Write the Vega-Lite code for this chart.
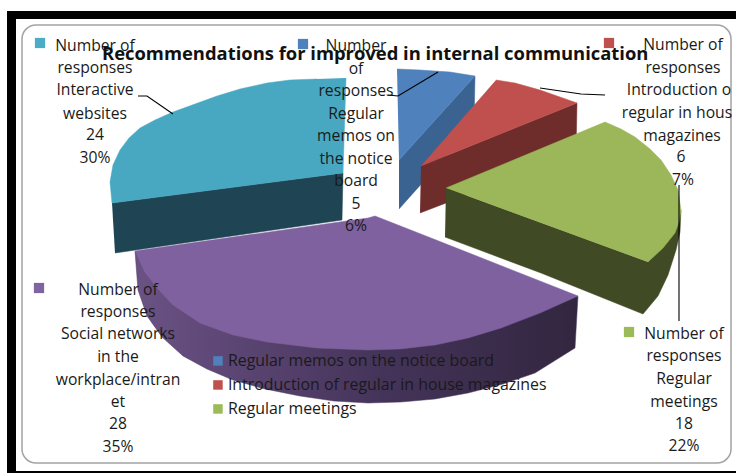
{"$schema":"https://vega.github.io/schema/vega-lite/v6.json","width":736,"height":473,"padding":0,"autosize":{"type":"none"},"background":"white",
"title":{"text":"Recommendations for improved in internal communication","font":"Open Sans","fontSize":18.4,"fontWeight":"bold","color":"#111111","anchor":"start","frame":"group","dx":102,"offset":-82,"baseline":"bottom","zindex":1},
"config":{"view":{"stroke":null}},
"datasets":{
"frame":[{"name":"inner","x":22,"x2":731,"y":25,"y2":463},{"name":"top","x":7,"x2":736,"y":11,"y2":19},{"name":"left","x":7,"x2":16,"y":11,"y2":473},{"name":"bottom","x":7,"x2":736,"y":471,"y2":473}],
"outline":[
{"part":"blue side","i":0,"x":399,"y":160},{"part":"blue side","i":1,"x":475,"y":76},{"part":"blue side","i":2,"x":474,"y":125},{"part":"blue side","i":3,"x":399,"y":209},
{"part":"blue top","i":0,"x":397,"y":69},{"part":"blue top","i":1,"x":420,"y":70},{"part":"blue top","i":2,"x":450,"y":72},{"part":"blue top","i":3,"x":475,"y":76},{"part":"blue top","i":4,"x":399,"y":160},
{"part":"red side","i":0,"x":421,"y":166},{"part":"red side","i":1,"x":577,"y":103},{"part":"red side","i":2,"x":576,"y":153},{"part":"red side","i":3,"x":420,"y":213},
{"part":"red top","i":0,"x":496,"y":80},{"part":"red top","i":1,"x":515,"y":83},{"part":"red top","i":2,"x":540,"y":90},{"part":"red top","i":3,"x":577,"y":103},{"part":"red top","i":4,"x":421,"y":166},
{"part":"green side","i":0,"x":446,"y":188},{"part":"green side","i":1,"x":648,"y":262},{"part":"green side","i":2,"x":681,"y":210},{"part":"green side","i":3,"x":680,"y":232},{"part":"green side","i":4,"x":676,"y":250},{"part":"green side","i":5,"x":668,"y":275},{"part":"green side","i":6,"x":658,"y":296},{"part":"green side","i":7,"x":643,"y":314},{"part":"green side","i":8,"x":541,"y":273},{"part":"green side","i":9,"x":445,"y":237},
{"part":"green top","i":0,"x":446,"y":188},{"part":"green top","i":1,"x":605,"y":122},{"part":"green top","i":2,"x":621,"y":129},{"part":"green top","i":3,"x":635,"y":137},{"part":"green top","i":4,"x":650,"y":149},{"part":"green top","i":5,"x":661,"y":160},{"part":"green top","i":6,"x":671,"y":175},{"part":"green top","i":7,"x":678,"y":190},{"part":"green top","i":8,"x":681,"y":210},{"part":"green top","i":9,"x":679,"y":222},{"part":"green top","i":10,"x":675,"y":233},{"part":"green top","i":11,"x":663,"y":248},{"part":"green top","i":12,"x":648,"y":262},
{"part":"teal side","i":0,"x":112,"y":203},{"part":"teal side","i":1,"x":343,"y":173},{"part":"teal side","i":2,"x":342,"y":220},{"part":"teal side","i":3,"x":115,"y":253},
{"part":"teal top","i":0,"x":346,"y":78},{"part":"teal top","i":1,"x":343,"y":173},{"part":"teal top","i":2,"x":112,"y":203},{"part":"teal top","i":3,"x":110,"y":182},{"part":"teal top","i":4,"x":113,"y":165},{"part":"teal top","i":5,"x":120,"y":150},{"part":"teal top","i":6,"x":129,"y":138},{"part":"teal top","i":7,"x":140,"y":128},{"part":"teal top","i":8,"x":155,"y":120},{"part":"teal top","i":9,"x":173,"y":112},{"part":"teal top","i":10,"x":195,"y":104},{"part":"teal top","i":11,"x":217,"y":96},{"part":"teal top","i":12,"x":240,"y":89},{"part":"teal top","i":13,"x":267,"y":83},{"part":"teal top","i":14,"x":290,"y":80},{"part":"teal top","i":15,"x":317,"y":79},
{"part":"purple side","i":0,"x":135,"y":251},{"part":"purple side","i":1,"x":138,"y":290},{"part":"purple side","i":2,"x":147,"y":316},{"part":"purple side","i":3,"x":162,"y":337},{"part":"purple side","i":4,"x":183,"y":356},{"part":"purple side","i":5,"x":207,"y":369},{"part":"purple side","i":6,"x":233,"y":380},{"part":"purple side","i":7,"x":265,"y":389},{"part":"purple side","i":8,"x":300,"y":396},{"part":"purple side","i":9,"x":334,"y":401},{"part":"purple side","i":10,"x":368,"y":403},{"part":"purple side","i":11,"x":401,"y":402},{"part":"purple side","i":12,"x":435,"y":399},{"part":"purple side","i":13,"x":468,"y":393},{"part":"purple side","i":14,"x":503,"y":384},{"part":"purple side","i":15,"x":535,"y":373},{"part":"purple side","i":16,"x":575,"y":348},{"part":"purple side","i":17,"x":578,"y":296},{"part":"purple side","i":18,"x":368,"y":340},
{"part":"purple top","i":0,"x":135,"y":251},{"part":"purple top","i":1,"x":368,"y":218},{"part":"purple top","i":2,"x":375,"y":216},{"part":"purple top","i":3,"x":431,"y":238},{"part":"purple top","i":4,"x":578,"y":296},{"part":"purple top","i":5,"x":540,"y":313},{"part":"purple top","i":6,"x":501,"y":328},{"part":"purple top","i":7,"x":468,"y":338},{"part":"purple top","i":8,"x":435,"y":345},{"part":"purple top","i":9,"x":400,"y":349},{"part":"purple top","i":10,"x":368,"y":350},{"part":"purple top","i":11,"x":317,"y":348},{"part":"purple top","i":12,"x":267,"y":342},{"part":"purple top","i":13,"x":233,"y":335},{"part":"purple top","i":14,"x":200,"y":323},{"part":"purple top","i":15,"x":173,"y":305},{"part":"purple top","i":16,"x":157,"y":288},{"part":"purple top","i":17,"x":144,"y":271}
],
"leaders":[
{"leader":"blue","i":0,"x":388,"y":95},{"leader":"blue","i":1,"x":398,"y":96},{"leader":"blue","i":2,"x":438,"y":72},
{"leader":"red","i":0,"x":540,"y":88},{"leader":"red","i":1,"x":581,"y":94},{"leader":"red","i":2,"x":605,"y":95},
{"leader":"teal","i":0,"x":138,"y":96},{"leader":"teal","i":1,"x":147,"y":96},{"leader":"teal","i":2,"x":173,"y":114},
{"leader":"green","i":0,"x":679,"y":185},{"leader":"green","i":1,"x":679,"y":321}
],
"keys":[
{"slice":"Interactive websites","x":40,"y":43},{"slice":"Regular memos on the notice board","x":303,"y":44},{"slice":"Introduction of regular in house magazines","x":609,"y":43},{"slice":"Social networks in the workplace/intranet","x":39,"y":288},{"slice":"Regular meetings","x":629,"y":332}
],
"labels":[
{"x":95,"y":45,"t":"Number of"},{"x":95,"y":67,"t":"responses"},{"x":95,"y":89,"t":"Interactive"},{"x":95,"y":113,"t":"websites"},{"x":95,"y":134,"t":"24"},{"x":95,"y":157,"t":"30%"},
{"x":356,"y":45,"t":"Number"},{"x":356,"y":68,"t":"of"},{"x":356,"y":90,"t":"responses"},{"x":356,"y":113,"t":"Regular"},{"x":356,"y":135,"t":"memos on"},{"x":356,"y":158,"t":"the notice"},{"x":356,"y":180,"t":"board"},{"x":356,"y":203,"t":"5"},{"x":356,"y":225,"t":"6%"},
{"x":683,"y":44,"t":"Number of"},{"x":683,"y":67,"t":"responses"},{"x":679,"y":89,"t":"Introduction o"},{"x":677,"y":112,"t":"regular in hous"},{"x":682,"y":135,"t":"magazines"},{"x":681,"y":156,"t":"6"},{"x":683,"y":179,"t":"7%"},
{"x":684,"y":333,"t":"Number of"},{"x":684,"y":355,"t":"responses"},{"x":684,"y":378,"t":"Regular"},{"x":684,"y":401,"t":"meetings"},{"x":684,"y":423,"t":"18"},{"x":684,"y":445,"t":"22%"},
{"x":118,"y":289,"t":"Number of"},{"x":118,"y":311,"t":"responses"},{"x":118,"y":333,"t":"Social networks"},{"x":118,"y":356,"t":"in the"},{"x":118,"y":379,"t":"workplace/intran"},{"x":118,"y":401,"t":"et"},{"x":118,"y":423,"t":"28"},{"x":118,"y":446,"t":"35%"}
]},
"encoding":{"x":{"field":"x","type":"quantitative","scale":{"domain":[0,736],"nice":false,"zero":false},"axis":null},"y":{"field":"y","type":"quantitative","scale":{"domain":[473,0],"nice":false,"zero":false},"axis":null}},
"layer":[
{"data":{"name":"frame"},"transform":[{"filter":"datum.name=='inner'"}],"mark":{"type":"rect","fill":"white","stroke":"#a3a3a3","strokeWidth":1.5,"cornerRadius":14},"encoding":{"x2":{"field":"x2"},"y2":{"field":"y2"}}},
{"data":{"name":"frame"},"transform":[{"filter":"datum.name!='inner'"}],"mark":{"type":"rect","fill":"black"},"encoding":{"x2":{"field":"x2"},"y2":{"field":"y2"}}},
{"data":{"name":"outline"},"transform":[{"filter":"datum.part=='blue side'"}],"mark":{"type":"line","fill":"#3a6391","stroke":"#3a6391","strokeWidth":0.5},"encoding":{"order":{"field":"i"}}},
{"data":{"name":"outline"},"transform":[{"filter":"datum.part=='blue top'"}],"mark":{"type":"line","fill":"#4f81bd","stroke":"#4f81bd","strokeWidth":0.5},"encoding":{"order":{"field":"i"}}},
{"data":{"name":"outline"},"transform":[{"filter":"datum.part=='red side'"}],"mark":{"type":"line","fill":"#6e2c2b","stroke":"#6e2c2b","strokeWidth":0.5},"encoding":{"order":{"field":"i"}}},
{"data":{"name":"outline"},"transform":[{"filter":"datum.part=='red top'"}],"mark":{"type":"line","fill":"#c0504d","stroke":"#c0504d","strokeWidth":0.5},"encoding":{"order":{"field":"i"}}},
{"data":{"name":"outline"},"transform":[{"filter":"datum.part=='green side'"}],"mark":{"type":"line","fill":"#404a24","stroke":"#404a24","strokeWidth":0.5},"encoding":{"order":{"field":"i"}}},
{"data":{"name":"outline"},"transform":[{"filter":"datum.part=='green top'"}],"mark":{"type":"line","fill":"#9bb759","stroke":"#9bb759","strokeWidth":0.5},"encoding":{"order":{"field":"i"}}},
{"data":{"name":"outline"},"transform":[{"filter":"datum.part=='teal side'"}],"mark":{"type":"line","fill":"#1f4555","stroke":"#1f4555","strokeWidth":0.5},"encoding":{"order":{"field":"i"}}},
{"data":{"name":"outline"},"transform":[{"filter":"datum.part=='teal top'"}],"mark":{"type":"line","fill":"#48a8c2","stroke":"#48a8c2","strokeWidth":0.5},"encoding":{"order":{"field":"i"}}},
{"data":{"name":"outline"},"transform":[{"filter":"datum.part=='purple side'"}],"mark":{"type":"line","stroke":"#4a3860","strokeWidth":0.5,"fill":{"gradient":"linear","x1":0,"x2":1,"y1":0,"y2":0,"stops":[{"offset":0,"color":"#6b5285"},{"offset":0.55,"color":"#45345a"},{"offset":1,"color":"#32263f"}]}},"encoding":{"order":{"field":"i"}}},
{"data":{"name":"outline"},"transform":[{"filter":"datum.part=='purple top'"}],"mark":{"type":"line","fill":"#7e619e","stroke":"#7e619e","strokeWidth":0.5},"encoding":{"order":{"field":"i"}}},
{"data":{"name":"leaders"},"mark":{"type":"line","stroke":"black","strokeWidth":1.1},"encoding":{"detail":{"field":"leader"},"order":{"field":"i"}}},
{"data":{"name":"keys"},"mark":{"type":"square","size":105,"opacity":1,"filled":true},"encoding":{"color":{"field":"slice","type":"nominal","scale":{"domain":["Regular memos on the notice board","Introduction of regular in house magazines","Regular meetings","Social networks in the workplace/intranet","Interactive websites"],"range":["#4f81bd","#c0504d","#9bbb59","#8064a2","#4bacc6"]},"legend":{"title":null,"values":["Regular memos on the notice board","Introduction of regular in house magazines","Regular meetings"],"orient":"none","legendX":210,"legendY":353,"labelFont":"Open Sans","labelFontSize":15.9,"labelColor":"#1a1a1a","labelLimit":0,"labelOffset":2,"symbolType":"square","symbolSize":90,"symbolStrokeWidth":0,"rowPadding":7,"zindex":1}}}},
{"data":{"name":"labels"},"mark":{"type":"text","font":"Open Sans","fontSize":15.7,"color":"#1a1a1a","align":"center","baseline":"middle","dy":1},"encoding":{"text":{"field":"t"}}}
]}
